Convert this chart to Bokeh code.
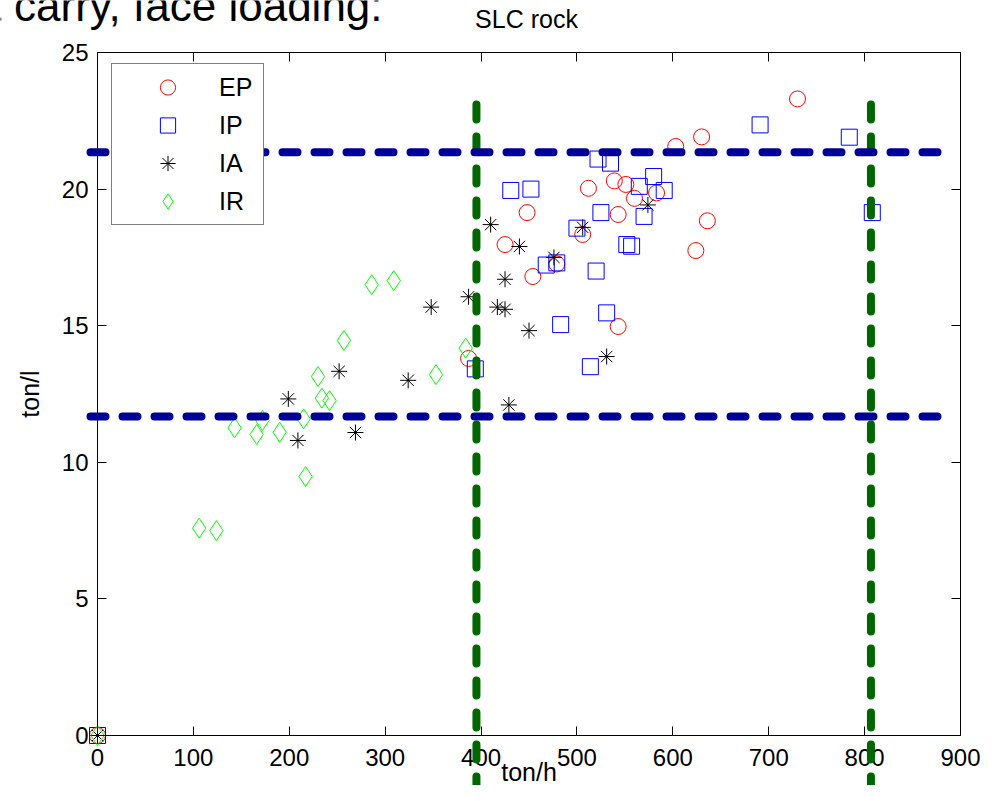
from bokeh.plotting import figure
from bokeh.models import Range1d, LinearAxis, FixedTicker, Legend, LegendItem, Label
from bokeh.embed import file_html
from bokeh.resources import INLINE

# ---- data ----
ep_x = [0, 387, 425, 448, 454, 479, 506, 512, 539, 543, 543, 551, 560, 583, 603, 624, 630, 636, 730]
ep_y = [0, 13.8, 17.97, 19.14, 16.8, 17.26, 18.34, 20.03, 20.3, 19.07, 14.97, 20.17, 19.66, 19.86, 21.56, 17.75, 21.91, 18.84, 23.3]

ip_x = [0, 394, 431, 452, 468, 479, 483, 500, 514, 520, 522, 525, 531, 535, 552, 557, 565, 570, 580, 591, 691, 784, 808]
ip_y = [0, 13.42, 19.95, 20.0, 17.22, 17.3, 15.04, 18.57, 13.5, 17.0, 21.1, 19.14, 15.47, 20.95, 17.97, 17.91, 20.1, 19.0, 20.46, 19.95, 22.35, 21.9, 19.14]

ia_x = [0, 199, 209, 252, 269, 324, 348, 387, 410, 417, 425, 425, 429, 440, 450, 476, 506, 531, 574]
ia_y = [0, 12.32, 10.8, 13.33, 11.09, 13.0, 15.68, 16.06, 18.7, 15.68, 15.6, 16.7, 12.1, 17.9, 14.82, 17.5, 18.6, 13.87, 19.42]

ir_x = [0, 106, 124, 143, 166, 172, 190, 215, 217, 230, 234, 242, 257, 286, 309, 353, 384]
ir_y = [0, 7.59, 7.5, 11.26, 11.02, 11.53, 11.1, 11.59, 9.48, 13.14, 12.35, 12.26, 14.46, 16.5, 16.65, 13.21, 14.18]

series_names = ["EP", "IP", "IA", "IR"]

# limit lines
hline_y = [21.35, 11.68]
hline_x = [-7.3, 893.6]
vline_x = [395.2, 806.6]
vline_y = [23.1, -1.87]

x_ticks = [0, 100, 200, 300, 400, 500, 600, 700, 800, 900]
y_ticks = [0, 5, 10, 15, 20, 25]
x_lim = (0, 900)
y_lim = (0, 25)

title_text = "SLC rock"
x_label = "ton/h"
y_label = "ton/l"
slide_text = "& carry, face loading:"

FONT = "Liberation Sans"

# ---- layout: canvas size and where the axes box sits on it (pixels) ----
W, H = 985, 785
BOX_L, BOX_R, BOX_T, BOX_B = 97, 960, 52, 735
kx = (BOX_R - BOX_L) / (x_lim[1] - x_lim[0])
ky = (BOX_B - BOX_T) / (y_lim[1] - y_lim[0])
x_range = Range1d(x_lim[0] - BOX_L / kx, x_lim[1] + (W - BOX_R) / kx)
y_range = Range1d(y_lim[0] - (H - BOX_B) / ky, y_lim[1] + BOX_T / ky)

p = figure(width=W, height=H, x_range=x_range, y_range=y_range,
           output_backend="svg", toolbar_location=None,
           min_border_left=0, min_border_right=0, min_border_top=0, min_border_bottom=0)
p.background_fill_color = "white"
p.border_fill_color = "white"
p.outline_line_color = None
p.grid.visible = False


def style_axis(ax, show_labels):
    ax.axis_line_color = "black"
    ax.axis_line_width = 1
    ax.major_tick_in = 9
    ax.major_tick_out = 0
    ax.major_tick_line_color = "black"
    ax.minor_tick_line_color = None
    ax.major_label_text_font = FONT
    if show_labels:
        ax.major_label_text_font_size = "24px"
        ax.major_label_text_color = "black"
    else:
        ax.major_label_text_font_size = "1px"
        ax.major_label_text_color = None
        ax.major_label_standoff = 0


xa = p.xaxis[0]
ya = p.yaxis[0]
xa.ticker = FixedTicker(ticks=x_ticks)
ya.ticker = FixedTicker(ticks=y_ticks)
xa.bounds = x_lim
ya.bounds = y_lim
xa.fixed_location = y_lim[0]
ya.fixed_location = x_lim[0]
style_axis(xa, True)
style_axis(ya, True)
xa.major_label_standoff = 13
ya.major_label_standoff = 9

for ax, txt in ((xa, x_label), (ya, y_label)):
    ax.axis_label = txt
    ax.axis_label_text_font = FONT
    ax.axis_label_text_font_size = "25px"
    ax.axis_label_text_font_style = "normal"
    ax.axis_label_text_color = "black"
xa.axis_label_standoff = -11
ya.axis_label_standoff = 15

top_ax = LinearAxis(ticker=FixedTicker(ticks=x_ticks), bounds=x_lim, fixed_location=y_lim[1])
right_ax = LinearAxis(ticker=FixedTicker(ticks=y_ticks), bounds=y_lim, fixed_location=x_lim[1])
style_axis(top_ax, False)
style_axis(right_ax, False)
p.add_layout(top_ax, "above")
p.add_layout(right_ax, "right")

# markers
r_ep = p.scatter(ep_x, ep_y, marker="circle", size=16, fill_color=None, line_color="#FF0000", line_width=1)
r_ip = p.scatter(ip_x, ip_y, marker="square", size=16, fill_color=None, line_color="#0000FF", line_width=1)
r_ia = p.scatter(ia_x, ia_y, marker="asterisk", size=16, line_color="black", line_width=1)
r_ir = p.scatter(ir_x, ir_y, marker="diamond", size=20, fill_color=None, line_color="#00FF00", line_width=1)

legend = Legend(items=[LegendItem(label=n, renderers=[r]) for n, r in
                       zip(series_names, [r_ep, r_ip, r_ia, r_ir])],
                location=(111, H - 225), margin=0, padding=4, spacing=0,
                glyph_width=103, glyph_height=38, label_height=38, label_width=40,
                label_standoff=0, label_text_font=FONT, label_text_font_size="25px",
                label_text_color="black", border_line_color="black", border_line_width=1,
                background_fill_color="white", background_fill_alpha=1.0)
p.add_layout(legend)

# limit lines (drawn over the legend, like the original)
p.segment(x0=vline_x, y0=[vline_y[0]] * len(vline_x), x1=vline_x, y1=[vline_y[1]] * len(vline_x),
          line_color="#006600", line_width=8, line_dash="15 17", line_cap="round", level="overlay")
p.segment(x0=[hline_x[0]] * len(hline_y), y0=hline_y, x1=[hline_x[1]] * len(hline_y), y1=hline_y,
          line_color="#000099", line_width=8, line_dash="15 17", line_cap="round", level="overlay")

# title
p.add_layout(Label(x=526, y=H - 18.8, x_units="screen", y_units="screen", text=title_text,
                   text_align="center", text_baseline="alphabetic", text_font=FONT,
                   text_font_size="25px", text_color="black"))

# cut-off slide text at the top-left
p.add_layout(Label(x=-28, y=H - 5, x_units="screen", y_units="screen", text=slide_text,
                   text_align="left", text_baseline="alphabetic", text_font=FONT,
                   text_font_size="44px", text_color="black"))

open("out.html", "w").write(file_html(p, INLINE))
